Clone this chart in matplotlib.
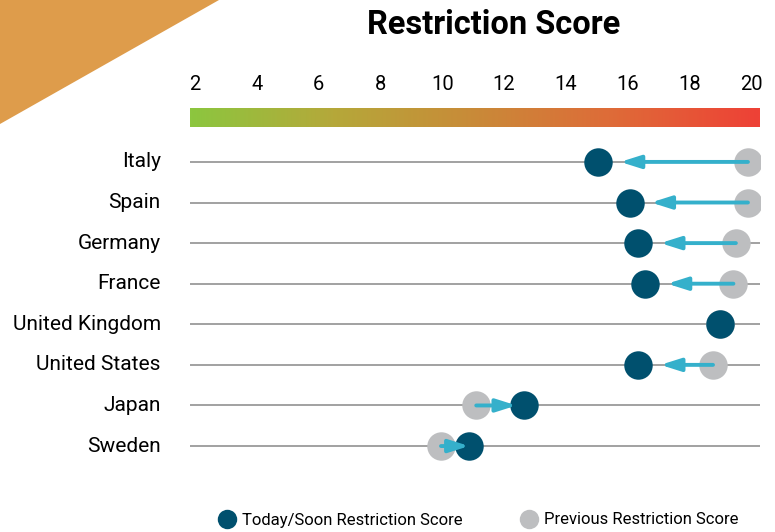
import numpy as np
import matplotlib.pyplot as plt
from matplotlib.colors import LinearSegmentedColormap
from matplotlib.lines import Line2D
from matplotlib.patches import Polygon

# ---------------- data ----------------
countries = ['Italy', 'Spain', 'Germany', 'France', 'United Kingdom',
             'United States', 'Japan', 'Sweden']
today = [15.04, 16.08, 16.34, 16.56, 18.98, 16.34, 12.65, 10.87]
previous = [19.89, 19.89, 19.5, 19.42, 18.98, 18.76, 11.1, 9.96]
ticks = [2, 4, 6, 8, 10, 12, 14, 16, 18, 20]

# ---------------- style ----------------
plt.rcParams['font.family'] = ['Roboto', 'DejaVu Sans']
DARK = '#00506e'
GREY = '#bdbec0'
ARROW = '#35b0cb'
LINE = '#9a9a9a'
ORANGE = '#de9c4b'
# gap between arrow tip and the today dot centre (points)
arrow_gap = [16, 15, 16, 16, 0, 16, 5.5, 0]

W, H = 775, 532
fig = plt.figure(figsize=(W / 100, H / 100), dpi=100)

def px_axes(x0, y0, x1, y1):
    return fig.add_axes([x0 / W, 1 - y1 / H, (x1 - x0) / W, (y1 - y0) / H])

xlim = (1.84, 20.28)

# orange corner triangle
bg = fig.add_axes([0, 0, 1, 1])
bg.set_xlim(0, W)
bg.set_ylim(H, 0)
bg.axis('off')
bg.add_patch(Polygon([(0, 0), (219, 0), (0, 124)], closed=True, color=ORANGE, lw=0))

fig.text(494 / W, 1 - 25 / H, 'Restriction Score', ha='center', va='center',
         fontsize=23.5, fontweight='bold', color='black')

# gradient bar with tick labels
cax = px_axes(190, 108, 760, 127)
cmap = LinearSegmentedColormap.from_list(
    'score', ['#8cc63f', '#b5a83a', '#c98a38', '#df6a38', '#ee4136'])
cax.imshow(np.linspace(0, 1, 400)[None, :], aspect='auto', cmap=cmap,
           extent=(xlim[0], xlim[1], 0, 1))
cax.set_xlim(xlim)
cax.set_ylim(0, 1)
cax.set_yticks([])
cax.xaxis.tick_top()
cax.set_xticks(ticks)
cax.set_xticklabels([str(t) for t in ticks], fontsize=14.5)
cax.tick_params(axis='x', length=0, pad=10)
for s in cax.spines.values():
    s.set_visible(False)

# main dot plot
ax = px_axes(190, 140, 760, 470)
ax.set_xlim(xlim)
ax.set_ylim(7.59, -0.54)
ax.axis('off')
y = np.arange(len(countries))
for i in y:
    ax.axhline(i, color=LINE, lw=1.3, zorder=1)
    ax.text(xlim[0] - 0.95, i, countries[i], ha='right', va='center',
            fontsize=15, color='black')

ax.scatter(previous, y, s=420, color=GREY, zorder=2, linewidths=0)
ax.scatter(today, y, s=420, color=DARK, zorder=3, linewidths=0)

for i in y:
    if previous[i] == today[i]:
        continue
    ax.annotate('', xy=(today[i], i), xytext=(previous[i], i), zorder=4,
                arrowprops=dict(arrowstyle='-|>,head_length=12,head_width=3.8',
                                mutation_scale=1, color=ARROW, lw=2.8,
                                shrinkA=0, shrinkB=arrow_gap[i]))

handles = [Line2D([], [], marker='o', ls='', markersize=14, color=DARK, mew=0),
           Line2D([], [], marker='o', ls='', markersize=14, color=GREY, mew=0)]
fig.legend(handles, ['Today/Soon Restriction Score', 'Previous Restriction Score'],
           loc='center', bbox_to_anchor=(478 / W, 1 - 520 / H), ncol=2,
           frameon=False, fontsize=12, handletextpad=0.3, columnspacing=3.4,
           handlelength=1.2)

fig.savefig('out.png', dpi=100)
